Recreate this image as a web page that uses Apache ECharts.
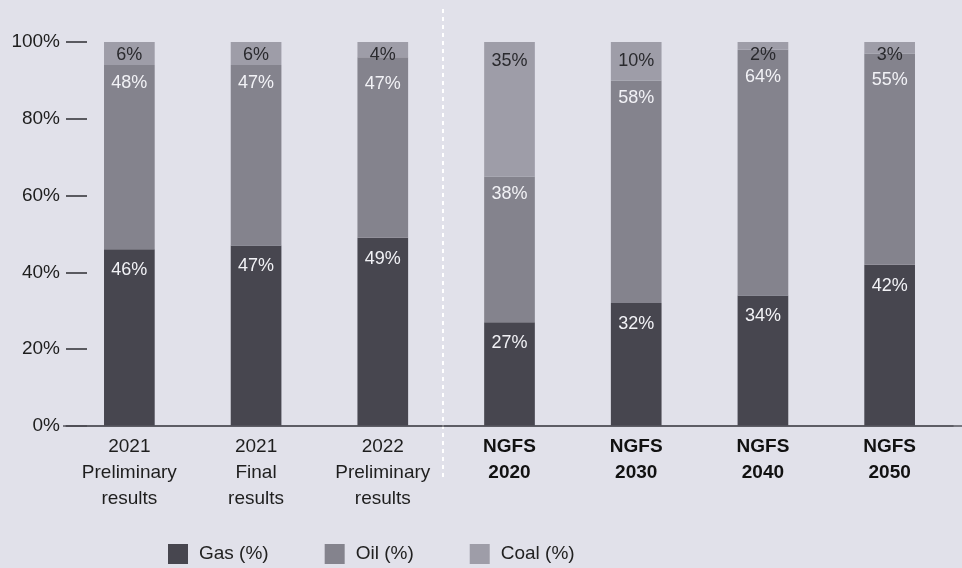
<!DOCTYPE html>
<html>
<head>
<meta charset="utf-8">
<script src="https://cdn.jsdelivr.net/npm/echarts@6/dist/echarts.min.js"></script>
<style>
  html, body { margin: 0; padding: 0; background: #e1e1ea; }
  #chart { width: 962px; height: 568px; }
</style>
</head>
<body>
<div id="chart"></div>
<script>
// Energy mix per scenario, share of each fuel in percent
const categories = [
  '2021\nPreliminary\nresults',
  '2021\nFinal\nresults',
  '2022\nPreliminary\nresults',
  'NGFS\n2020',
  'NGFS\n2030',
  'NGFS\n2040',
  'NGFS\n2050'
];
const gasShare  = [46, 47, 49, 27, 32, 34, 42];
const oilShare  = [48, 47, 47, 38, 58, 64, 55];
const coalShare = [6, 6, 4, 35, 10, 2, 3];
const yTicks = [0, 20, 40, 60, 80, 100];

const FONT = '"Liberation Sans", Arial, sans-serif';
const COLORS = { gas: '#47464f', oil: '#84838d', coal: '#9e9da8' };

// Thin top segments push their label up and the label below it down
const coalData = coalShare.map(v => ({ value: v, label: { distance: v < 8 ? 4 : 10 } }));
const oilData = oilShare.map((v, i) => ({ value: v, label: { distance: coalShare[i] < 5 ? 18 : 9 } }));

const chart = echarts.init(document.getElementById('chart'), null, { renderer: 'canvas' });

const labelBase = { show: true, position: 'insideTop', formatter: '{c}%', fontFamily: FONT, fontSize: 18 };

chart.setOption({
  backgroundColor: '#e1e1ea',
  animation: false,
  grid: { left: 66, right: 9, top: 42, bottom: 142, containLabel: false },
  legend: {
    left: 163, top: 539,
    itemWidth: 20, itemHeight: 20, itemGap: 56,
    icon: 'rect',
    textStyle: { fontFamily: FONT, fontSize: 19, color: '#222', padding: [0, 0, 0, 6] },
    data: ['Gas (%)', 'Oil (%)', 'Coal (%)']
  },
  xAxis: {
    type: 'category',
    data: categories,
    axisLine: { show: true, lineStyle: { color: '#55545c', width: 1.5 } },
    axisTick: { show: false },
    axisLabel: {
      margin: 8,
      interval: 0,
      fontFamily: FONT,
      fontSize: 19,
      lineHeight: 26,
      color: '#1e1e1e',
      formatter: (val) => {
        const lines = val.split('\n');
        const style = val.startsWith('NGFS') ? 'b' : 'r';
        return lines.map(l => '{' + style + '|' + l + '}').join('\n');
      },
      rich: {
        r: { fontFamily: FONT, fontSize: 19, lineHeight: 26, color: '#1e1e1e' },
        b: { fontFamily: FONT, fontSize: 19, lineHeight: 26, color: '#111', fontWeight: 'bold' }
      }
    }
  },
  yAxis: {
    type: 'value',
    min: yTicks[0],
    max: yTicks[yTicks.length - 1],
    interval: yTicks[1] - yTicks[0],
    axisLine: { show: false },
    axisTick: { show: true, inside: true, length: 21, lineStyle: { color: '#2e2e33', width: 1.5 } },
    splitLine: { show: false },
    axisLabel: { margin: 6, fontFamily: FONT, fontSize: 19, color: '#1e1e1e', formatter: '{value}%' }
  },
  series: [
    {
      name: 'Gas (%)', type: 'bar', stack: 'mix', barWidth: '40%',
      itemStyle: { color: COLORS.gas },
      label: Object.assign({}, labelBase, { color: '#f2f2f6', distance: 12 }),
      data: gasShare
    },
    {
      name: 'Oil (%)', type: 'bar', stack: 'mix', barWidth: '40%',
      itemStyle: { color: COLORS.oil },
      label: Object.assign({}, labelBase, { color: '#f2f2f6' }),
      data: oilData
    },
    {
      name: 'Coal (%)', type: 'bar', stack: 'mix', barWidth: '40%',
      itemStyle: { color: COLORS.coal },
      label: Object.assign({}, labelBase, { color: '#2a2a2e' }),
      data: coalData
    }
  ]
});

// Separator between reported results and NGFS scenarios, and full-width baseline
const xa = chart.convertToPixel({ xAxisIndex: 0 }, categories[2]);
const xb = chart.convertToPixel({ xAxisIndex: 0 }, categories[3]);
const yZero = chart.convertToPixel({ yAxisIndex: 0 }, 0);
const sepX = Math.round((xa + xb) / 2) - 3;
chart.setOption({
  graphic: [
    {
      type: 'line', silent: true, z: 10,
      shape: { x1: sepX, y1: 9, x2: sepX, y2: 478 },
      style: { stroke: '#ffffff', lineWidth: 2, lineDash: [4, 4] }
    },
    {
      type: 'line', silent: true, z: 10,
      shape: { x1: 63, y1: yZero, x2: 962, y2: yZero },
      style: { stroke: '#55545c', lineWidth: 1.5 }
    }
  ]
});
</script>
</body>
</html>
